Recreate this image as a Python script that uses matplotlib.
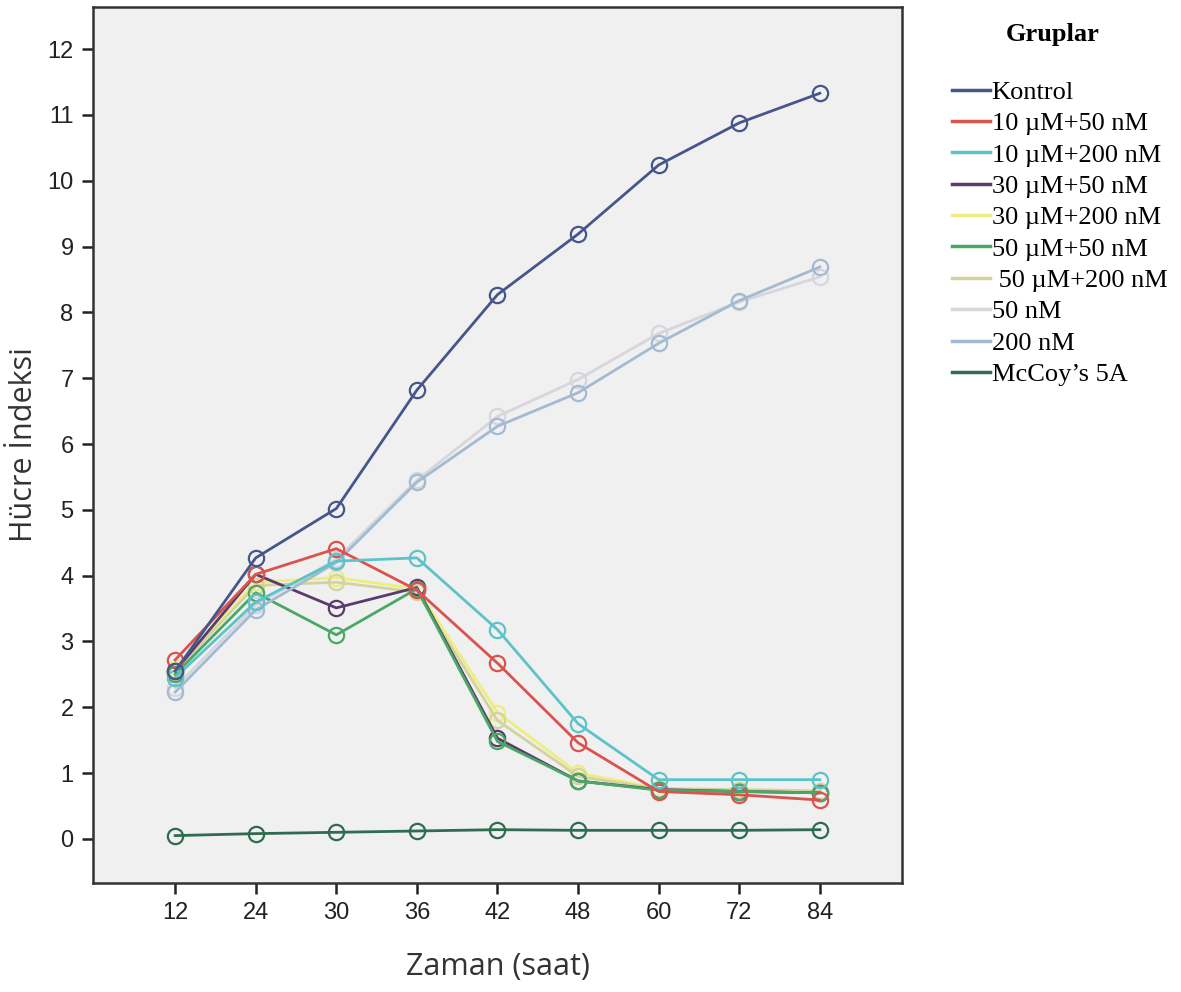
import matplotlib
matplotlib.use('Agg')
import matplotlib.pyplot as plt

# time points (hours) and cell index per group
hours = ['12', '24', '30', '36', '42', '48', '60', '72', '84']

groups = ['Kontrol', '10 µM+50 nM', '10 µM+200 nM', '30 µM+50 nM', '30 µM+200 nM',
          '50 µM+50 nM', ' 50 µM+200 nM', '50 nM', '200 nM', 'McCoy’s 5A']

kontrol = [2.55, 4.27, 5.02, 6.82, 8.27, 9.19, 10.24, 10.88, 11.33]
m10_n50 = [2.72, 4.02, 4.41, 3.78, 2.67, 1.46, 0.72, 0.67, 0.59]
m10_n200 = [2.45, 3.60, 4.22, 4.27, 3.18, 1.75, 0.90, 0.90, 0.90]
m30_n50 = [2.55, 4.02, 3.51, 3.82, 1.53, 0.88, 0.75, 0.72, 0.70]
m30_n200 = [2.60, 3.90, 3.97, 3.80, 1.92, 1.00, 0.77, 0.75, 0.72]
m50_n50 = [2.50, 3.74, 3.10, 3.80, 1.48, 0.88, 0.74, 0.72, 0.70]
m50_n200 = [2.55, 3.85, 3.90, 3.75, 1.80, 0.95, 0.76, 0.75, 0.73]
n50 = [2.30, 3.55, 4.25, 5.45, 6.42, 6.98, 7.68, 8.16, 8.54]
n200 = [2.23, 3.48, 4.20, 5.42, 6.27, 6.78, 7.53, 8.18, 8.69]
mccoy = [0.05, 0.08, 0.10, 0.12, 0.14, 0.13, 0.13, 0.13, 0.14]

series = [kontrol, m10_n50, m10_n200, m30_n50, m30_n200,
          m50_n50, m50_n200, n50, n200, mccoy]
colors = ['#46558a', '#d9534f', '#5cc3c9', '#5b3a6e', '#eeee80',
          '#4aa866', '#d4d3a0', '#d6d6dc', '#a3bad3', '#2f6b50']
zorders = [5, 4, 4, 3, 2, 3, 2, 2, 3, 5]

fig = plt.figure(figsize=(11.81, 9.92), dpi=100)
ax = fig.add_axes([0.0787, 0.1099, 0.6851, 0.883])
ax.set_facecolor('#f0f0f0')

x = list(range(len(hours)))
for vals, lab, c, z in zip(series, groups, colors, zorders):
    ax.plot(x, vals, color=c, lw=2.0, marker='o', ms=11, mfc='none',
            mec=c, mew=1.6, label=lab, zorder=z)

ax.set_xlim(-1.02, 9.02)
ax.set_ylim(-0.67, 12.64)
ax.set_xticks(x)
ax.set_xticklabels(hours)
ax.set_yticks(range(0, 13))
ax.tick_params(axis='both', direction='out', length=8, width=1.8,
               labelsize=17, colors='#222222', pad=6)
for t in ax.get_xticklabels() + ax.get_yticklabels():
    t.set_family('Liberation Sans')
for s in ax.spines.values():
    s.set_color('#333333')
    s.set_linewidth(1.8)

ax.set_xlabel('Zaman (saat)', fontsize=22, family='Open Sans', color='#333333', labelpad=20)
ax.set_ylabel('Hücre İndeksi', fontsize=22, family='Open Sans', color='#333333', labelpad=6)

handles, labels = ax.get_legend_handles_labels()
handles = [plt.Line2D([], [], color=h.get_color(), lw=2.5) for h in handles]
leg = fig.legend(handles, labels, loc='upper left', bbox_to_anchor=(0.786, 0.943),
                 frameon=False, handlelength=1.45, handletextpad=0.05,
                 labelspacing=0.3, prop={'family': 'Liberation Serif', 'size': 19})
fig.text(0.891, 0.965, 'Gruplar', ha='center', va='center',
         family='Liberation Serif', fontweight='bold', fontsize=19)

plt.savefig('out.png', dpi=100)
